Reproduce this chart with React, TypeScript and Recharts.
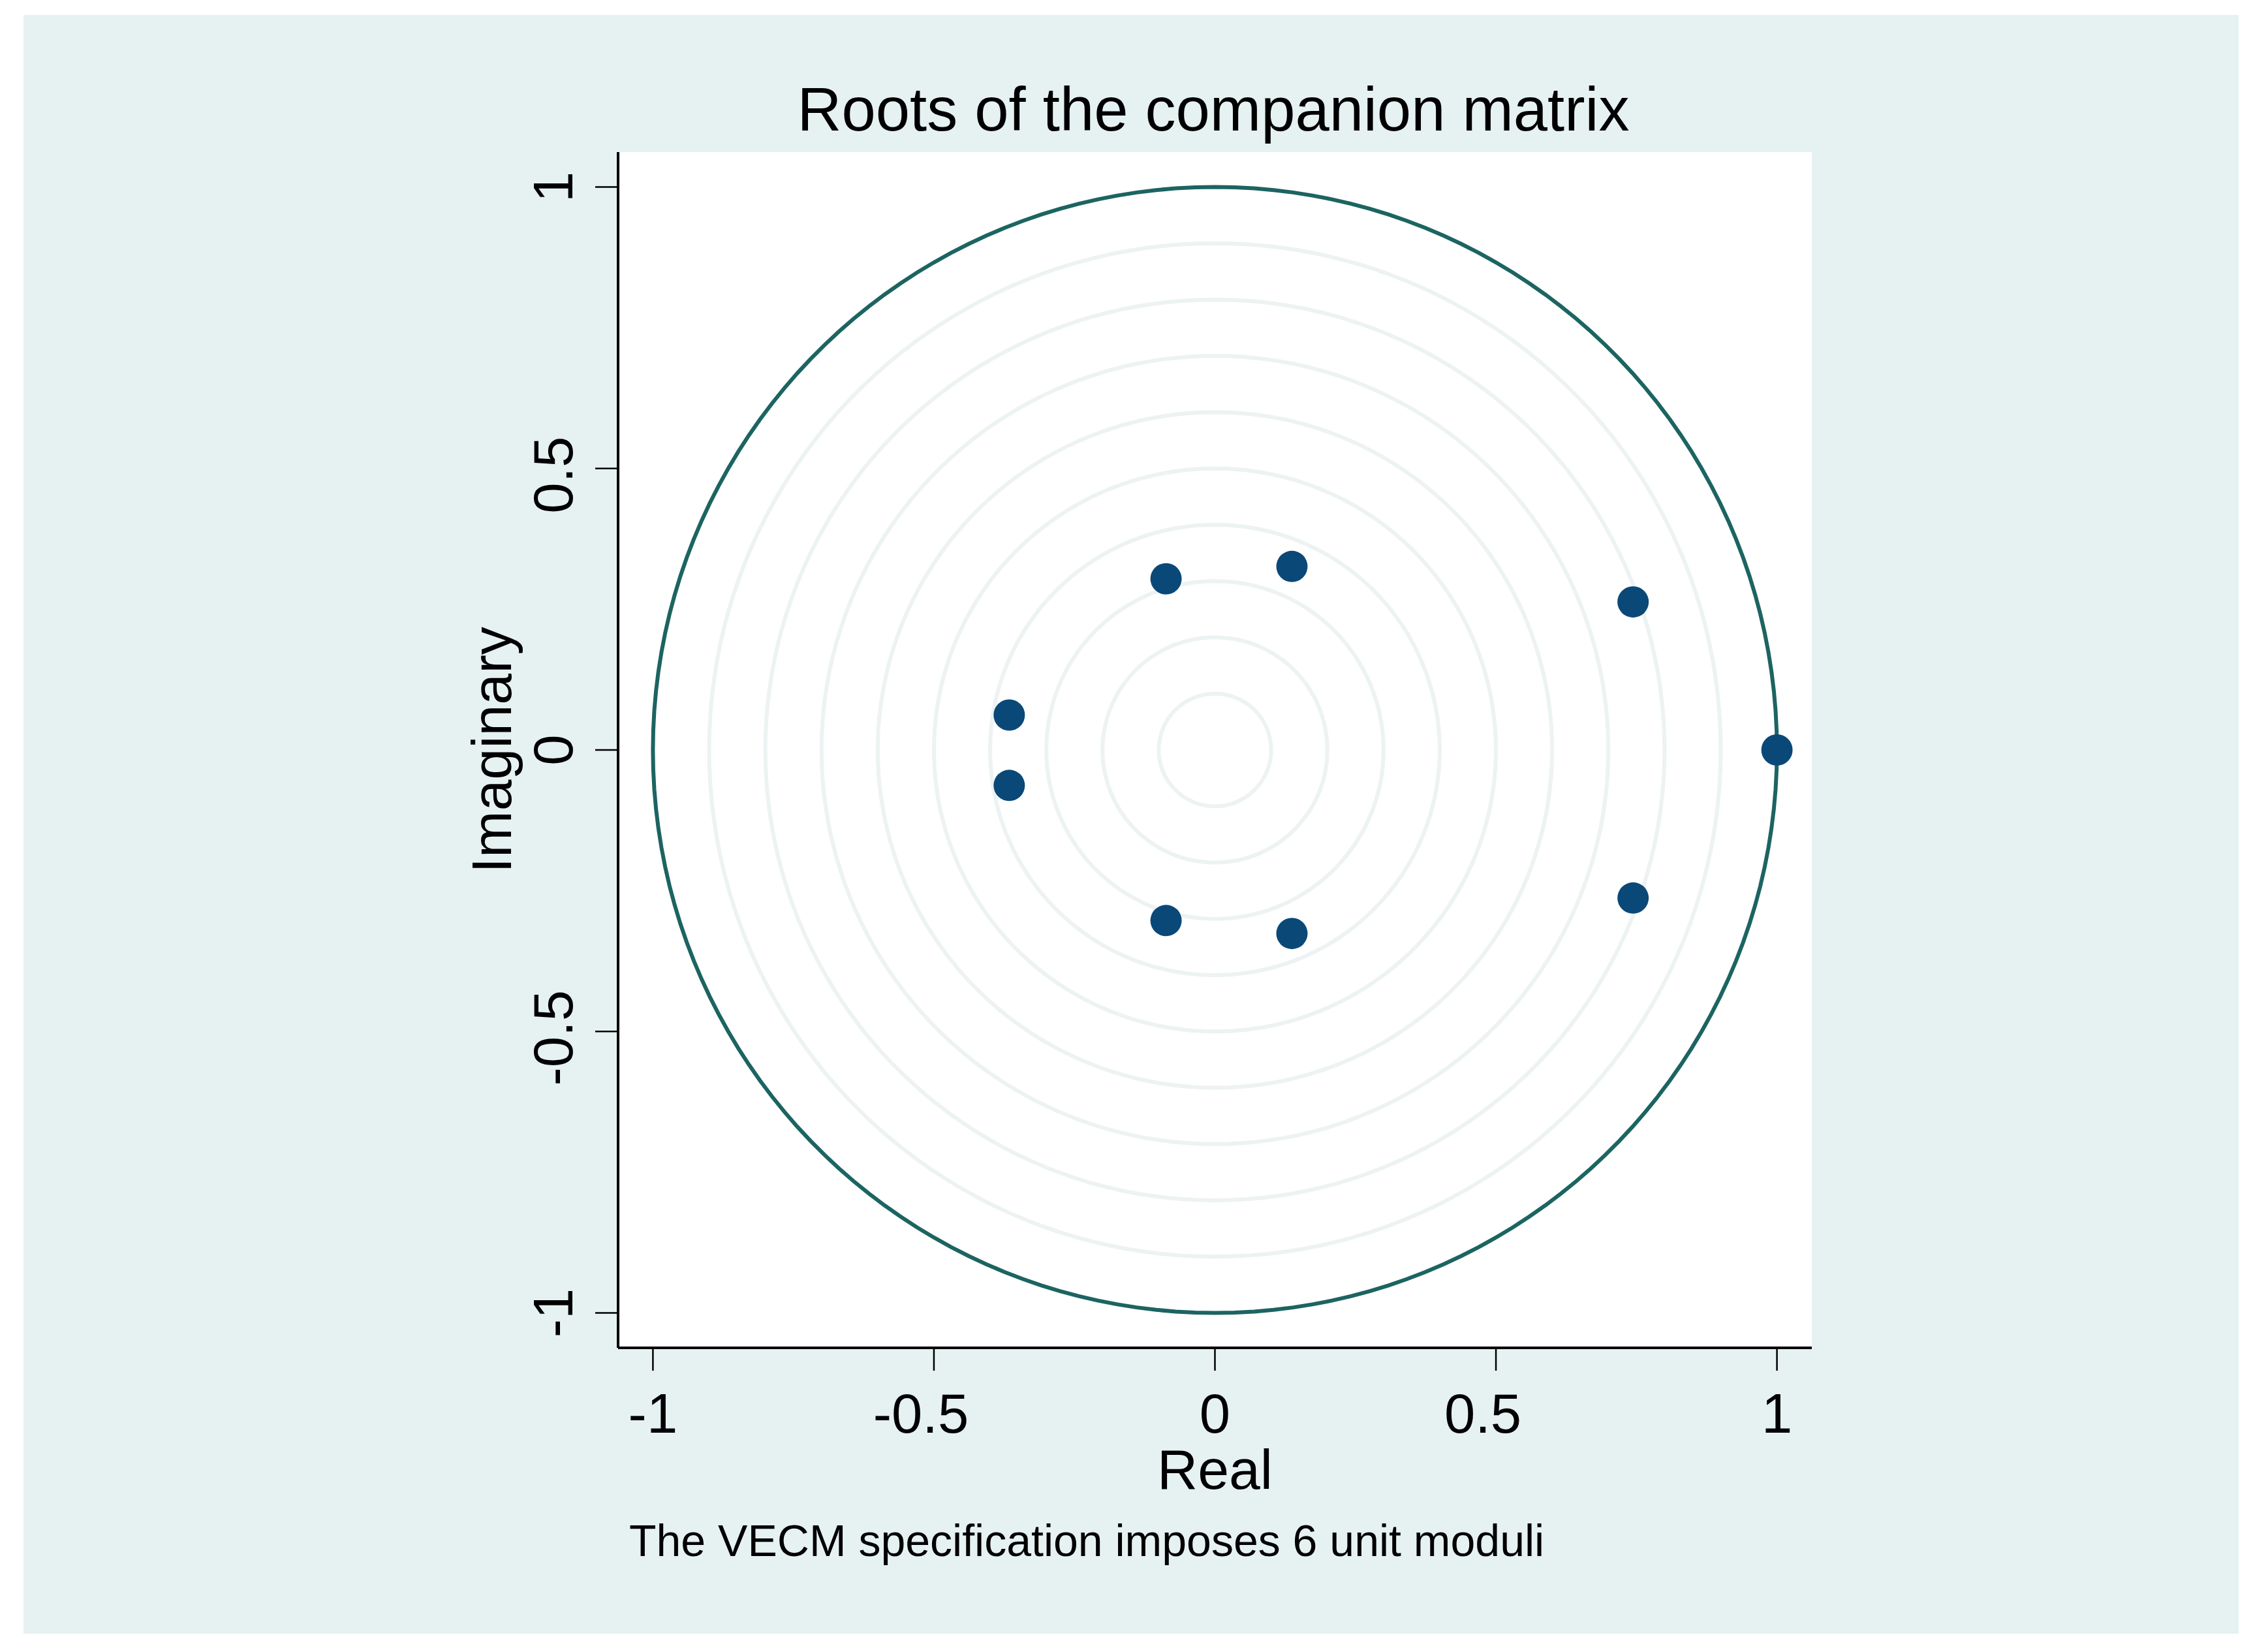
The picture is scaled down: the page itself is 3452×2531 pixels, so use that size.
import { Scatter, ScatterChart, CartesianGrid, XAxis, YAxis } from "recharts";

// eigenvalues of the companion matrix (real, imaginary)
const rootReal = [0.137, -0.087, 0.744, -0.366, 1.0, -0.366, -0.087, 0.137, 0.744];
const rootImag = [0.326, 0.304, 0.263, 0.062, 0.0, -0.063, -0.303, -0.326, -0.263];

// reference rings drawn behind the roots
const gridRadii = [0.1, 0.2, 0.3, 0.4, 0.5, 0.6, 0.7, 0.8, 0.9];
const unitRadius = 1;

const axisTicks = [-1, -0.5, 0, 0.5, 1];
const axisDomain = [-1.062, 1.062];

const FONT = '"Liberation Sans", Arial, Helvetica, sans-serif';

const roots = rootReal.map((re, i) => ({ re, im: rootImag[i] }));

// outline of a ring of radius r, walked in 2 degree steps
function ring(r: number) {
  const pts = [];
  for (let deg = 0; deg <= 360; deg += 2) {
    const a = (deg * Math.PI) / 180;
    pts.push({ re: r * Math.cos(a), im: r * Math.sin(a) });
  }
  return pts;
}

const noMarker = () => <g />;

// stata sets the half-unit labels a little off centre
const labelShift = (v: number) => (Number.isInteger(v) ? 0 : 20);

function RootDot(props: any) {
  return <circle cx={props.cx} cy={props.cy} r={24} fill="#0a4878" />;
}

function XTick(props: any) {
  const { x, y, payload } = props;
  return (
    <text
      x={x - labelShift(payload.value)}
      y={y}
      dy="0.71em"
      textAnchor="middle"
      fontFamily={FONT}
      fontSize={85}
      fill="#000"
    >
      {String(payload.value)}
    </text>
  );
}

function RotatedTick(props: any) {
  const { x, payload } = props;
  const y = props.y + labelShift(payload.value) * 0.5;
  return (
    <text
      x={x}
      y={y}
      transform={`rotate(-90 ${x} ${y})`}
      textAnchor="middle"
      fontFamily={FONT}
      fontSize={85}
      fill="#000"
    >
      {String(payload.value)}
    </text>
  );
}

function ImagLabel(props: any) {
  const vb = props.viewBox;
  const x = vb.x + vb.width - 164;
  const y = vb.y + vb.height / 2;
  return (
    <text
      x={x}
      y={y}
      transform={`rotate(-90 ${x} ${y})`}
      textAnchor="middle"
      fontFamily={FONT}
      fontSize={86}
      fill="#000"
    >
      Imaginary
    </text>
  );
}

function RealLabel(props: any) {
  const vb = props.viewBox;
  return (
    <text
      x={vb.x + vb.width / 2}
      y={vb.y + 216}
      textAnchor="middle"
      fontFamily={FONT}
      fontSize={86}
      fill="#000"
    >
      Real
    </text>
  );
}

export default function App() {
  return (
    <div
      style={{
        position: "absolute",
        left: 0,
        top: 0,
        width: 3452,
        height: 2531,
        background: "#fff",
        overflow: "hidden",
      }}
    >
      <div
        style={{
          position: "absolute",
          left: 36,
          top: 23,
          width: 3394,
          height: 2480,
          background: "#e6f1f2",
        }}
      />
      <div style={{ position: "absolute", left: 0, top: 0 }}>
        <ScatterChart
          width={3452}
          height={2531}
          margin={{ top: 233, right: 676, bottom: 216, left: 697 }}
        >
          <CartesianGrid fill="#fff" horizontal={false} vertical={false} />
          <XAxis
            type="number"
            dataKey="re"
            domain={axisDomain}
            ticks={axisTicks}
            allowDataOverflow
            height={250}
            tickSize={35}
            tickMargin={35}
            axisLine={{ stroke: "#000", strokeWidth: 4 }}
            tickLine={{ stroke: "#000", strokeWidth: 2.5 }}
            tick={<XTick />}
            label={{ content: RealLabel }}
          />
          <YAxis
            type="number"
            dataKey="im"
            domain={axisDomain}
            ticks={axisTicks}
            allowDataOverflow
            width={250}
            tickSize={35}
            tickMargin={35}
            axisLine={{ stroke: "#000", strokeWidth: 4 }}
            tickLine={{ stroke: "#000", strokeWidth: 2.5 }}
            tick={<RotatedTick />}
            label={{ content: ImagLabel }}
          />
          {gridRadii.map((r) => (
            <Scatter
              key={r}
              data={ring(r)}
              line={{ stroke: "#edf2f3", strokeWidth: 6 }}
              lineType="joint"
              shape={noMarker}
              isAnimationActive={false}
            />
          ))}
          <Scatter
            data={ring(unitRadius)}
            line={{ stroke: "#1c6461", strokeWidth: 6 }}
            lineType="joint"
            shape={noMarker}
            isAnimationActive={false}
          />
          <Scatter data={roots} shape={RootDot} isAnimationActive={false} />
        </ScatterChart>
      </div>
      <svg
        width={3452}
        height={2531}
        style={{ position: "absolute", left: 0, top: 0, pointerEvents: "none" }}
      >
        <text x={1859} y={200} textAnchor="middle" fontFamily={FONT} fontSize={94} fill="#000">
          Roots of the companion matrix
        </text>
        <text x={964} y={2384} fontFamily={FONT} fontSize={68} fill="#000">
          The VECM specification imposes 6 unit moduli
        </text>
      </svg>
    </div>
  );
}
